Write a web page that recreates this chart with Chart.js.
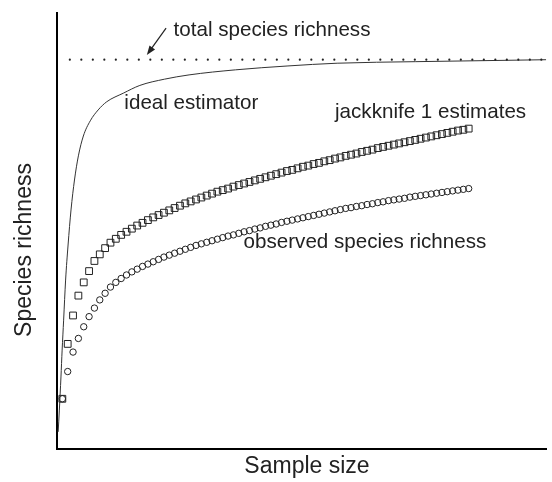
<!DOCTYPE html>
<html>
<head>
<meta charset="utf-8">
<script src="https://cdn.jsdelivr.net/npm/chart.js@4.4.0/dist/chart.umd.min.js"></script>
<style>
  html, body { margin: 0; background: #fff; overflow: hidden; }
</style>
</head>
<body>
<canvas id="richness" width="552" height="482"></canvas>
<script>
// sample index (x) for the plotted markers
const sampleSize = [
  1, 2, 3, 4, 5, 6, 7, 8, 9, 10, 11, 12, 13, 14, 15, 16, 17, 18, 19, 20,
  21, 22, 23, 24, 25, 26, 27, 28, 29, 30, 31, 32, 33, 34, 35, 36, 37, 38, 39, 40,
  41, 42, 43, 44, 45, 46, 47, 48, 49, 50, 51, 52, 53, 54, 55, 56, 57, 58, 59, 60,
  61, 62, 63, 64, 65, 66, 67, 68, 69, 70, 71, 72, 73, 74, 75, 76, 77
];
const jackknife1 = [
  12.9, 27.0, 34.3, 39.4, 42.8, 45.7, 48.3, 50.0, 51.6, 53.0,
  54.0, 55.0, 55.8, 56.6, 57.4, 58.1, 58.8, 59.5, 60.1, 60.7,
  61.3, 61.9, 62.5, 63.1, 63.6, 64.1, 64.6, 65.1, 65.6, 66.1,
  66.5, 66.9, 67.4, 67.8, 68.2, 68.6, 69.0, 69.4, 69.8, 70.2,
  70.6, 71.0, 71.4, 71.7, 72.1, 72.5, 72.8, 73.2, 73.5, 73.9,
  74.2, 74.6, 74.9, 75.3, 75.6, 75.9, 76.3, 76.6, 76.9, 77.3,
  77.6, 77.9, 78.2, 78.5, 78.8, 79.1, 79.4, 79.7, 80.0, 80.3,
  80.6, 80.9, 81.2, 81.5, 81.8, 82.0, 82.3
];
const observed = [
  12.9, 19.9, 24.9, 28.4, 31.4, 34.0, 36.2, 38.3, 40.0, 41.6,
  42.8, 43.8, 44.7, 45.5, 46.2, 46.9, 47.5, 48.1, 48.7, 49.3,
  49.8, 50.3, 50.8, 51.3, 51.8, 52.3, 52.7, 53.1, 53.5, 53.9,
  54.3, 54.7, 55.0, 55.4, 55.8, 56.1, 56.5, 56.8, 57.2, 57.5,
  57.8, 58.2, 58.5, 58.8, 59.1, 59.4, 59.7, 60.0, 60.3, 60.6,
  60.9, 61.2, 61.5, 61.8, 62.0, 62.3, 62.5, 62.8, 63.0, 63.3,
  63.5, 63.8, 64.0, 64.2, 64.4, 64.7, 64.9, 65.1, 65.3, 65.5,
  65.7, 65.9, 66.1, 66.3, 66.5, 66.7, 66.9
];
// ideal estimator curve
const idealX = [0.22, 0.44, 0.74, 0.96, 1.24, 1.61, 2.07, 2.62, 3.27, 4.0, 4.93, 6.22, 7.7, 9.3,
  12.4, 15.5, 20.1, 24.7, 33.4, 43.2, 52.4, 67.1, 91.5];
const idealY = [4.4, 10.0, 18.5, 25.4, 33.1, 43.4, 52.4, 61.4, 69.1, 75.3, 80.4, 84.3, 87.1, 89.2,
  91.4, 93.4, 95.0, 96.1, 97.4, 98.4, 99.1, 99.5, 100];
const totalRichness = 100;
const totalX = [2.4, 91.5];

const xy = (xs, ys) => xs.map((x, i) => ({ x, y: ys[i] }));
const ink = "#222";
const font = "Liberation Sans, Arial, sans-serif";

const notes = {
  id: "notes",
  afterDatasetsDraw(chart) {
    const { ctx, scales: { x, y } } = chart;
    ctx.save();
    ctx.fillStyle = ink;
    ctx.font = "20.6px " + font;
    ctx.textBaseline = "middle";
    ctx.textAlign = "left";
    const put = (t, px, py) => ctx.fillText(t, x.getPixelForValue(px), y.getPixelForValue(py));
    put("total species richness", 21.8, 107.5);
    put("ideal estimator", 12.6, 88.9);
    put("jackknife 1 estimates", 52.0, 86.4);
    put("observed species richness", 34.9, 53.2);

    // arrow to the total line
    const x0 = x.getPixelForValue(20.4), y0 = y.getPixelForValue(108.1);
    const x1 = x.getPixelForValue(16.8), y1 = y.getPixelForValue(101.2);
    const a = Math.atan2(y1 - y0, x1 - x0);
    ctx.strokeStyle = ink;
    ctx.lineWidth = 1.2;
    ctx.beginPath();
    ctx.moveTo(x0, y0);
    ctx.lineTo(x1 - 6 * Math.cos(a), y1 - 6 * Math.sin(a));
    ctx.stroke();
    ctx.beginPath();
    ctx.moveTo(x1, y1);
    ctx.lineTo(x1 - 10 * Math.cos(a - 0.35), y1 - 10 * Math.sin(a - 0.35));
    ctx.lineTo(x1 - 10 * Math.cos(a + 0.35), y1 - 10 * Math.sin(a + 0.35));
    ctx.closePath();
    ctx.fill();

    // axis titles
    ctx.font = "23px " + font;
    ctx.textAlign = "center";
    ctx.fillText("Sample size", 307, 467);
    ctx.translate(25, 250);
    ctx.rotate(-Math.PI / 2);
    ctx.fillText("Species richness", 0, 0);
    ctx.restore();
  }
};

const chart = new Chart(document.getElementById("richness"), {
  type: "scatter",
  data: {
    datasets: [
      {
        label: "total species richness",
        data: xy(totalX, totalX.map(() => totalRichness)),
        showLine: true,
        borderColor: ink,
        borderWidth: 2.2,
        borderDash: [0, 11.5],
        borderCapStyle: "round",
        pointRadius: 0,
      },
      {
        label: "ideal estimator",
        data: xy(idealX, idealY),
        showLine: true,
        borderColor: "#333",
        borderWidth: 1,
        cubicInterpolationMode: "monotone",
        pointRadius: 0,
      },
      {
        label: "jackknife 1 estimates",
        data: xy(sampleSize, jackknife1),
        pointStyle: "rect",
        pointRadius: 4.8,
        borderColor: ink,
        borderWidth: 1,
        backgroundColor: "rgba(0,0,0,0)",
      },
      {
        label: "observed species richness",
        data: xy(sampleSize, observed),
        pointStyle: "circle",
        pointRadius: 3.2,
        borderColor: ink,
        borderWidth: 1,
        backgroundColor: "rgba(0,0,0,0)",
      },
    ],
  },
  options: {
    responsive: false,
    animation: false,
    layout: { padding: { left: 57, top: 13, right: -5, bottom: 33 } },
    plugins: { legend: { display: false }, tooltip: { enabled: false } },
    scales: {
      x: {
        type: "linear",
        min: 0,
        max: 91.5,
        ticks: { display: false },
        grid: { display: false, drawTicks: false },
        border: { display: true, width: 2, color: "#000" },
      },
      y: {
        type: "linear",
        min: 0,
        max: 112,
        ticks: { display: false },
        grid: { display: false, drawTicks: false },
        border: { display: true, width: 2, color: "#000" },
      },
    },
  },
  plugins: [notes],
});
</script>
</body>
</html>
